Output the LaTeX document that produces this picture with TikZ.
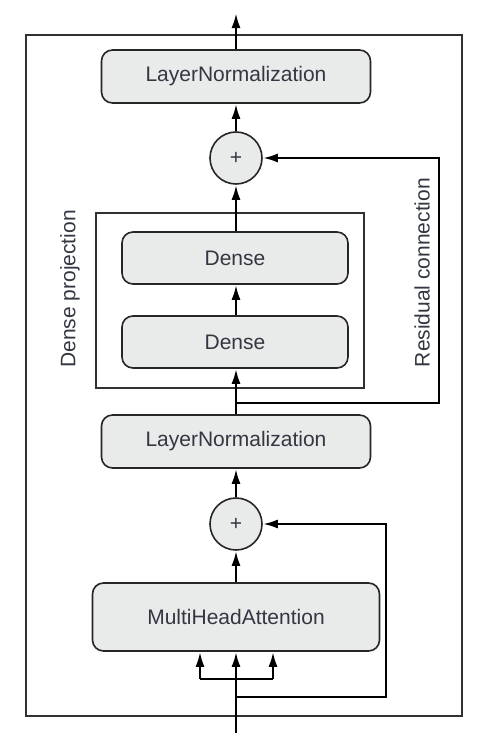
\documentclass[tikz,border=0pt]{standalone}
\usepackage{fontspec}
\setmainfont{Liberation Sans}
\usetikzlibrary{arrows.meta,positioning,shapes}

\definecolor{boxgray}{RGB}{233,234,234}
\definecolor{textgray}{RGB}{50,55,65}
\definecolor{framegray}{RGB}{50,48,50}

\begin{document}
\begin{tikzpicture}[x=1pt,y=-1pt,
            txt/.style={text=textgray,font=\fontsize{21}{25}\selectfont},
            block/.style={draw=black!85,fill=boxgray,rounded corners=11pt,line width=1.6pt,
                          minimum height=53pt,inner sep=0pt,txt},
            addnode/.style={circle,draw=black!85,fill=boxgray,line width=1.6pt,
                          minimum size=52pt,inner sep=0pt,txt},
            lab/.style={rotate=90,txt},
            flow/.style={draw,line width=2.5pt,-{Latex[length=15pt,width=9pt]}},
            link/.style={draw,line width=2.5pt}
          ]
          \useasboundingbox (0,0) rectangle (502,744);
          %outer frame
          \draw[framegray,line width=2pt] (26,35) rectangle (462,716);

          %blocks
          \node[block,minimum width=269pt] (lntop) at (236,76.5) {LayerNormalization};
          \node[addnode] (addtop) at (236,158) {+};
          \node[draw=framegray,line width=2pt,minimum width=268pt,minimum height=175pt] (proj) at (230,300.5) {};
          \node[block,minimum width=226pt,minimum height=52pt] (densetwo) at (235,258) {Dense};
          \node[block,minimum width=226pt,minimum height=52pt] (denseone) at (235,342) {Dense};
          \node[block,minimum width=269pt] (lnbot) at (236,441.5) {LayerNormalization};
          \node[addnode] (addbot) at (236,524) {+};
          \node[block,minimum width=287pt,minimum height=68pt] (mha) at (236,617) {MultiHeadAttention};

          %labels
          \node[lab] (projlab) at (70,289) {Dense projection};
          \node[lab] (reslab) at (422,272.5) {Residual connection};

          %input and output
          \coordinate (in) at (236,733);
          \coordinate (out) at (236,13);
          \coordinate (split) at (236,679);
          \coordinate (qry) at (200,679);
          \coordinate (val) at (273,679);
          \coordinate (resbot) at (236,697);
          \coordinate (resbotturn) at (386,697);
          \coordinate (restop) at (236,403);
          \coordinate (restopturn) at (439,403);

          %main flow
          \draw[flow] (in) -- (mha.south);
          \draw[link] (qry) -- (val);
          \draw[flow] (qry) -- (qry |- mha.south);
          \draw[flow] (val) -- (val |- mha.south);
          \draw[flow] (mha) -- (addbot);
          \draw[flow] (addbot) -- (lnbot);
          \draw[flow] (lnbot) -- (denseone.south -| lnbot);
          \draw[flow] (denseone.north -| lnbot) -- (densetwo.south -| lnbot);
          \draw[flow] (densetwo.north -| lnbot) -- (addtop);
          \draw[flow] (addtop) -- (lntop);
          \draw[flow] (lntop) -- (out);

          %residuals
          \draw[flow] (resbot) -- (resbotturn) |- (addbot.east);
          \draw[flow] (restop) -- (restopturn) |- (addtop.east);
      \end{tikzpicture}
\end{document}
